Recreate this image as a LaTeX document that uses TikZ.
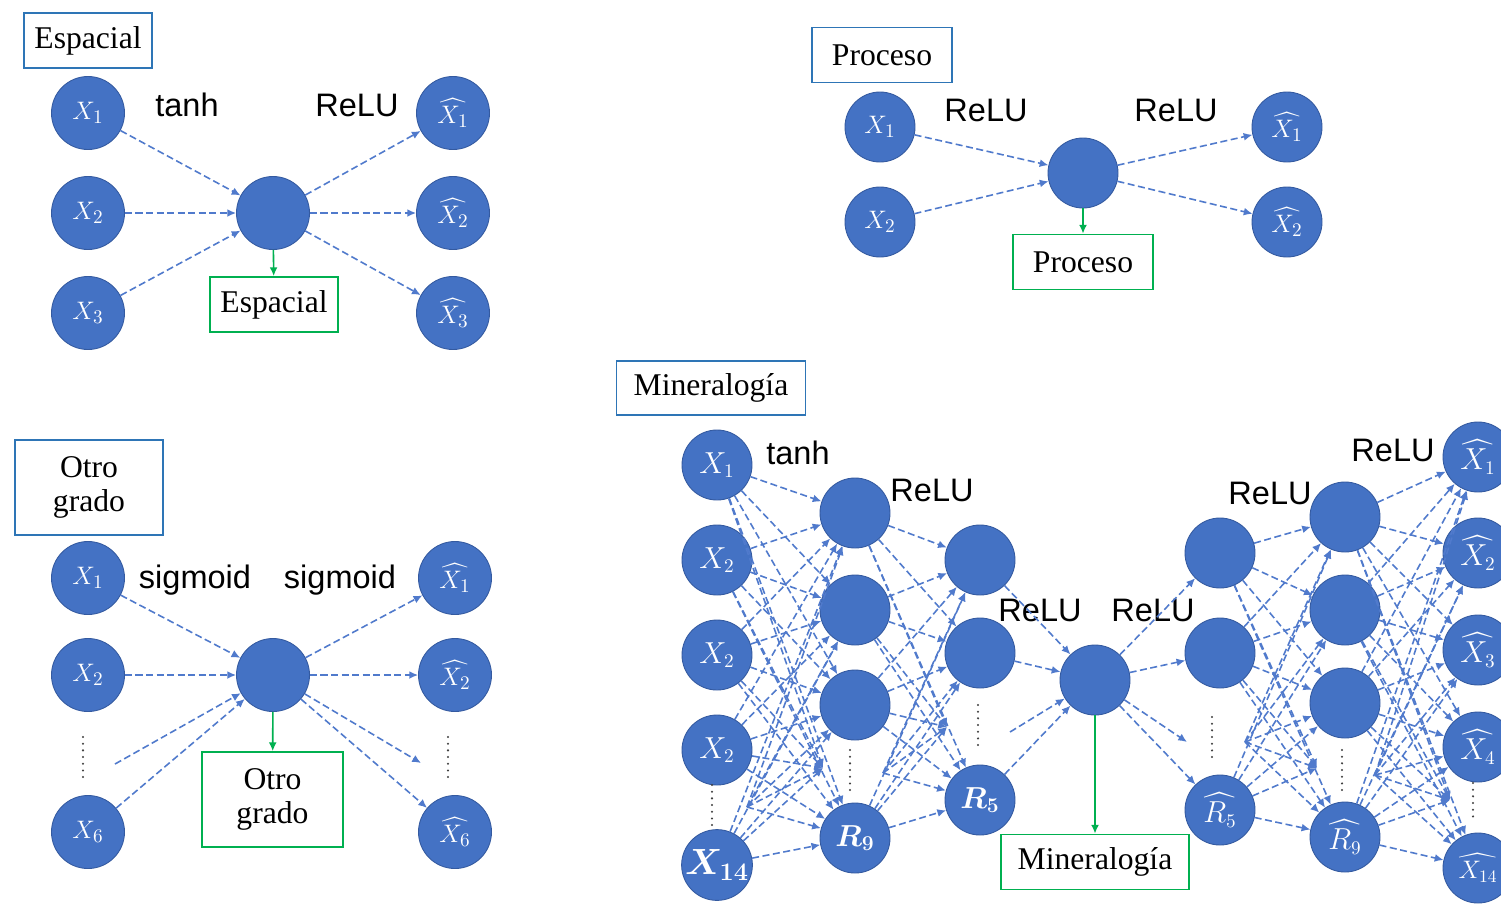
\documentclass[tikz,border=0pt]{standalone}
\usepackage{amsmath}
\usepackage{fontspec}
\setmainfont{Liberation Serif}
\setsansfont{Liberation Sans}
\usepackage{tikz}
\usetikzlibrary{positioning}
\usetikzlibrary{arrows.meta}
\usepackage{xcolor}
\definecolor{nodeblue}{RGB}{68,114,196}
\definecolor{nodeedge}{RGB}{52,90,160}
\definecolor{linkblue}{RGB}{80,122,204}
\definecolor{titleblue}{RGB}{46,117,182}
\definecolor{outgreen}{RGB}{0,176,80}

\begin{document}
\begin{tikzpicture}[>={Latex[length=5pt,width=4.5pt]},
    neuron/.style={circle,fill=nodeblue,draw=nodeedge,line width=0.5pt,minimum size=1.46cm,inner sep=0pt,text=white,font=\fontsize{15.5}{17}\selectfont},
    mneuron/.style={neuron,minimum size=1.4cm,font=\fontsize{16}{18}\selectfont},
    titlebox/.style={draw=titleblue,line width=1pt,fill=white,align=center,inner sep=0pt,font=\fontsize{18}{19.5}\selectfont},
    outbox/.style={draw=outgreen,line width=1pt,fill=white,align=center,inner sep=0pt,font=\fontsize{18}{19.5}\selectfont},
    act/.style={inner sep=0pt,font=\sffamily\fontsize{18.5}{20}\selectfont},
    link/.style={->,draw=linkblue,line width=0.9pt,dash pattern=on 4pt off 2pt},
    keep/.style={->,draw=outgreen,line width=0.9pt},
    dotcol/.style={draw=black!75,line width=1.3pt,line cap=round,dash pattern=on 0pt off 3.8pt}]

  \useasboundingbox (0,0) rectangle (30.02,-18.06);
  \fill[white] (0,0) rectangle (30.02,-18.06);

  % Espacial
  \node[titlebox,minimum width=2.56cm,minimum height=1.1cm] (etitle) at (1.76,-0.81) {Espacial};
  \node[neuron] (ex1) at (1.76,-2.26) {$X_1$};
  \node[neuron] (ex2) at (1.76,-4.26) {$X_2$};
  \node[neuron] (ex3) at (1.76,-6.26) {$X_3$};
  \node[neuron] (eh) at (5.46,-4.26) {};
  \node[neuron] (ey1) at (9.06,-2.26) {$\widehat{X_1}$};
  \node[neuron] (ey2) at (9.06,-4.26) {$\widehat{X_2}$};
  \node[neuron] (ey3) at (9.06,-6.26) {$\widehat{X_3}$};
  \node[act] (etanh) at (3.74,-2.10) {tanh};
  \node[act] (erelu) at (7.14,-2.10) {ReLU};
  \node[outbox,minimum width=2.56cm,minimum height=1.1cm] (eout) at (5.48,-6.09) {Espacial};
  \draw[link] (ex1) -- (eh);
  \draw[link] (ex2) -- (eh);
  \draw[link] (ex3) -- (eh);
  \draw[link] (eh) -- (ey1);
  \draw[link] (eh) -- (ey2);
  \draw[link] (eh) -- (ey3);
  \draw[keep] (eh) -- (eout);

  % Otro grado
  \node[titlebox,minimum width=2.96cm,minimum height=1.9cm] (otitle) at (1.78,-9.75) {Otro\\grado};
  \node[neuron] (ox1) at (1.76,-11.56) {$X_1$};
  \node[neuron] (ox2) at (1.76,-13.50) {$X_2$};
  \node[neuron] (ox6) at (1.76,-16.64) {$X_6$};
  \coordinate (oin) at (2.30,-15.28);
  \node[neuron] (oh) at (5.46,-13.50) {};
  \node[neuron] (oy1) at (9.10,-11.56) {$\widehat{X_1}$};
  \node[neuron] (oy2) at (9.10,-13.50) {$\widehat{X_2}$};
  \node[neuron] (oy6) at (9.10,-16.64) {$\widehat{X_6}$};
  \coordinate (oend) at (8.42,-15.26);
  \node[act] (osig1) at (3.90,-11.60) {sigmoid};
  \node[act] (osig2) at (6.80,-11.60) {sigmoid};
  \node[outbox,minimum width=2.82cm,minimum height=1.9cm] (oout) at (5.45,-15.99) {Otro\\grado};
  \draw[dotcol] (1.66,-14.74) -- (1.66,-15.60);
  \draw[dotcol] (8.96,-14.74) -- (8.96,-15.60);
  \draw[link] (ox1) -- (oh);
  \draw[link] (ox2) -- (oh);
  \draw[link] (oin) -- (oh);
  \draw[link] (ox6) -- (oh);
  \draw[link] (oh) -- (oy1);
  \draw[link] (oh) -- (oy2);
  \draw[link] (oh) -- (oend);
  \draw[link] (oh) -- (oy6);
  \draw[keep] (oh) -- (oout);

  % Proceso
  \node[titlebox,minimum width=2.8cm,minimum height=1.1cm] (ptitle) at (17.64,-1.10) {Proceso};
  \node[neuron,minimum size=1.4cm] (px1) at (17.60,-2.54) {$X_1$};
  \node[neuron,minimum size=1.4cm] (px2) at (17.60,-4.44) {$X_2$};
  \node[neuron,minimum size=1.4cm] (ph) at (21.66,-3.46) {};
  \node[neuron,minimum size=1.4cm] (py1) at (25.74,-2.54) {$\widehat{X_1}$};
  \node[neuron,minimum size=1.4cm] (py2) at (25.74,-4.44) {$\widehat{X_2}$};
  \node[act] (prelu1) at (19.72,-2.20) {ReLU};
  \node[act] (prelu2) at (23.52,-2.20) {ReLU};
  \node[outbox,minimum width=2.8cm,minimum height=1.1cm] (pout) at (21.66,-5.24) {Proceso};
  \draw[link] (px1) -- (ph);
  \draw[link] (px2) -- (ph);
  \draw[link] (ph) -- (py1);
  \draw[link] (ph) -- (py2);
  \draw[keep] (ph) -- (pout);

  % Mineralogia
  \node[titlebox,minimum width=3.78cm,minimum height=1.08cm] (mtitle) at (14.22,-7.76) {Mineralogía};
  \node[mneuron] (mx1) at (14.34,-9.30) {$X_1$};
  \node[mneuron] (mx2) at (14.34,-11.20) {$X_2$};
  \node[mneuron] (mx3) at (14.34,-13.10) {$X_2$};
  \node[mneuron] (mx4) at (14.34,-15.00) {$X_2$};
  \node[mneuron,font=\fontsize{20}{22}\selectfont] (mx14) at (14.34,-17.30) {$\boldsymbol{X_{14}}$};
  \coordinate (mxd) at (14.94,-16.14);
  \node[mneuron] (ma1) at (17.10,-10.26) {};
  \node[mneuron] (ma2) at (17.10,-12.20) {};
  \node[mneuron] (ma3) at (17.10,-14.10) {};
  \node[mneuron,font=\fontsize{18}{20}\selectfont] (mr9) at (17.10,-16.76) {$\boldsymbol{R_9}$};
  \coordinate (mad) at (16.46,-15.36);
  \coordinate (mas) at (17.66,-15.46);
  \node[mneuron] (mb1) at (19.60,-11.20) {};
  \node[mneuron] (mb2) at (19.60,-13.06) {};
  \node[mneuron,font=\fontsize{18}{20}\selectfont] (mr5) at (19.60,-16.00) {$\boldsymbol{R_5}$};
  \coordinate (mbd) at (18.94,-14.54);
  \coordinate (mbs) at (20.20,-14.64);
  \node[mneuron] (mm) at (21.90,-13.60) {};
  \node[mneuron] (mc1) at (24.40,-11.06) {};
  \node[mneuron] (mc2) at (24.40,-13.06) {};
  \node[mneuron] (mcr5) at (24.40,-16.20) {$\widehat{R_5}$};
  \coordinate (mcd) at (23.74,-14.84);
  \coordinate (mcs) at (24.90,-14.84);
  \node[mneuron] (md1) at (26.90,-10.34) {};
  \node[mneuron] (md2) at (26.90,-12.20) {};
  \node[mneuron] (md3) at (26.90,-14.06) {};
  \node[mneuron] (mdr9) at (26.90,-16.74) {$\widehat{R_9}$};
  \coordinate (mdd) at (26.34,-15.36);
  \coordinate (mds) at (27.50,-15.50);
  \node[mneuron] (my1) at (29.56,-9.14) {$\widehat{X_1}$};
  \node[mneuron] (my2) at (29.56,-11.06) {$\widehat{X_2}$};
  \node[mneuron] (my3) at (29.56,-13.00) {$\widehat{X_3}$};
  \node[mneuron] (my4) at (29.56,-14.94) {$\widehat{X_4}$};
  \node[mneuron,font=\fontsize{14}{16}\selectfont] (my14) at (29.56,-17.36) {$\widehat{X_{14}}$};
  \coordinate (myd) at (29.00,-16.00);
  \node[act] (mtanh) at (15.96,-9.06) {tanh};
  \node[act] (mrelu1) at (18.64,-9.80) {ReLU};
  \node[act] (mrelu2) at (20.80,-12.20) {ReLU};
  \node[act] (mrelu3) at (23.06,-12.20) {ReLU};
  \node[act] (mrelu4) at (25.40,-9.86) {ReLU};
  \node[act] (mrelu5) at (27.86,-9.00) {ReLU};
  \node[outbox,minimum width=3.76cm,minimum height=1.1cm] (mout) at (21.90,-17.24) {Mineralogía};
  \draw[dotcol] (14.24,-15.70) -- (14.24,-16.56);
  \draw[dotcol] (17.00,-15.00) -- (17.00,-15.86);
  \draw[dotcol] (19.56,-14.10) -- (19.56,-14.94);
  \draw[dotcol] (24.24,-14.34) -- (24.24,-15.20);
  \draw[dotcol] (26.84,-15.00) -- (26.84,-15.86);
  \draw[dotcol] (29.46,-15.66) -- (29.46,-16.46);
  \foreach \s in {mx1,mx2,mx3,mx4,mxd,mx14}
    \foreach \t in {ma1,ma2,ma3,mad,mr9}
      \draw[link] (\s) -- (\t);
  \foreach \s in {ma1,ma2,ma3,mas,mr9}
    \foreach \t in {mb1,mb2,mbd,mr5}
      \draw[link] (\s) -- (\t);
  \foreach \s in {mb1,mb2,mbs,mr5}
    \draw[link] (\s) -- (mm);
  \foreach \t in {mc1,mc2,mcd,mcr5}
    \draw[link] (mm) -- (\t);
  \foreach \s in {mc1,mc2,mcs,mcr5}
    \foreach \t in {md1,md2,md3,mdd,mdr9}
      \draw[link] (\s) -- (\t);
  \foreach \s in {md1,md2,md3,mds,mdr9}
    \foreach \t in {my1,my2,my3,my4,myd,my14}
      \draw[link] (\s) -- (\t);
  \draw[keep] (mm) -- (mout);
\end{tikzpicture}
\end{document}
